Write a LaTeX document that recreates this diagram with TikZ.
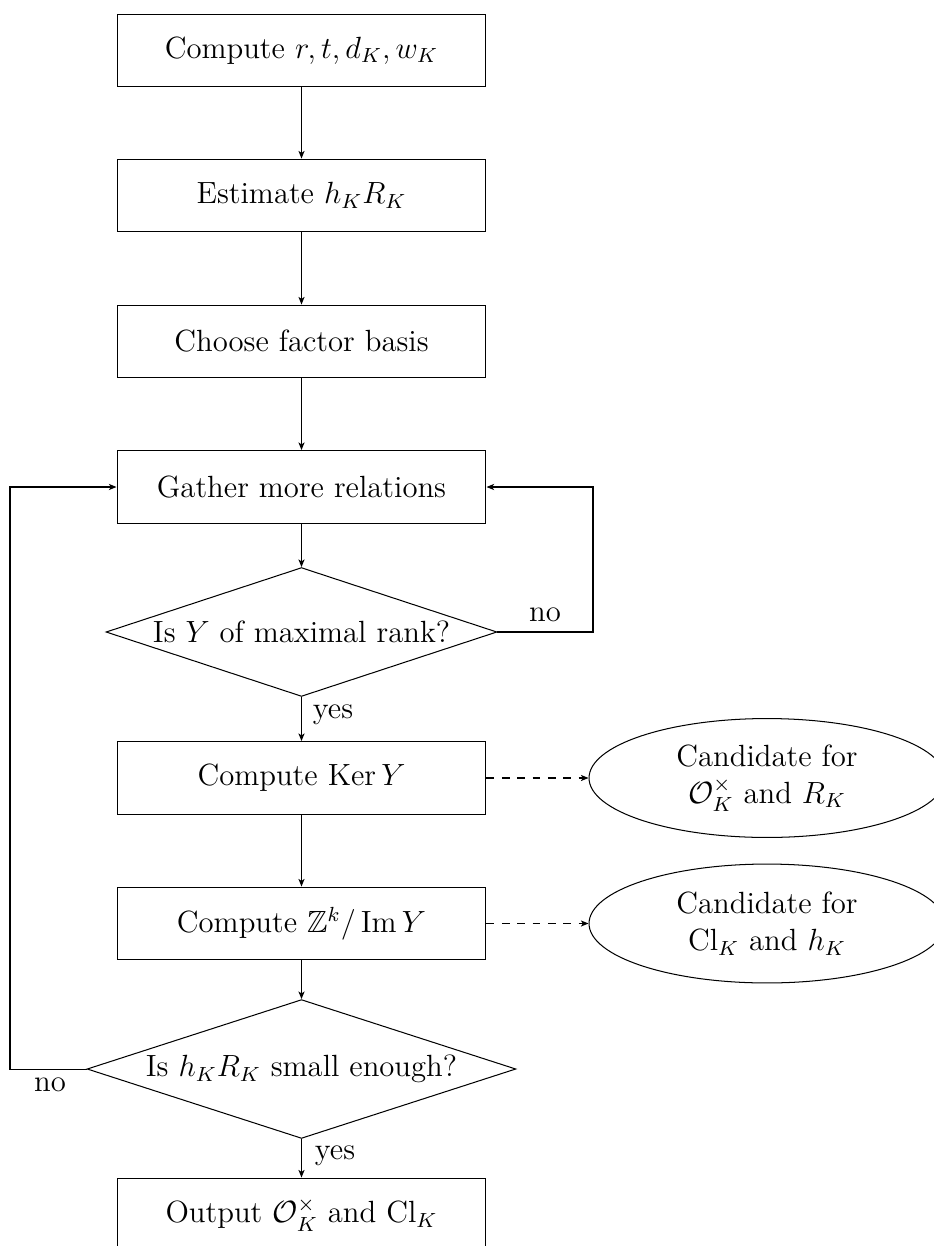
\documentclass[tikz,border=0pt,12pt]{standalone}
\usepackage{amsmath,amssymb}
\usetikzlibrary{shapes.geometric,arrows.meta}
\begin{document}
\begin{tikzpicture}[x=0.3911pt,y=-0.3911pt,
  box/.style={draw, rectangle, minimum width=144.3pt, minimum height=28.5pt, inner sep=0pt},
  dec/.style={draw, diamond, aspect=3.1, inner sep=0pt},
  cand/.style={draw, ellipse, minimum width=139.2pt, minimum height=46.5pt, inner sep=0pt, align=center},
  arr/.style={-{Stealth[length=3pt,width=2.4pt,inset=0.8pt]}},
  lbl/.style={inner sep=0pt}]
\clip (0,0) rectangle (934,1246);
\node[box] (b1) at (301.5,50.5) {Compute $r,t,d_K,w_K$};
\node[box] (b2) at (301.5,195.5) {Estimate $h_KR_K$};
\node[box] (b3) at (301.5,341.5) {Choose factor basis};
\node[box] (b4) at (301.5,487) {Gather more relations};
\node[dec, minimum width=152.9pt, minimum height=50.4pt] (d1) at (301.5,632) {Is $Y$ of maximal rank?};
\node[box] (b5) at (301.5,778) {Compute $\operatorname{Ker} Y$};
\node[box] (b6) at (301.5,923.5) {Compute $\mathbb{Z}^k/\operatorname{Im} Y$};
\node[dec, minimum width=167.7pt, minimum height=54.3pt] (d2) at (301.5,1069) {Is $h_KR_K$ small enough?};
\node[box] (b7) at (301.5,1214.5) {Output $\mathcal{O}_K^\times$ and $\mathrm{Cl}_K$};
\node[cand] (e1) at (767,778) {Candidate for\\ $\mathcal{O}_K^\times$ and $R_K$};
\node[cand] (e2) at (767,923.5) {Candidate for\\ $\mathrm{Cl}_K$ and $h_K$};
\coordinate (cr) at (593,632);
\coordinate (cl) at (10,1069);
\draw[arr] (b1) -- (b2);
\draw[arr] (b2) -- (b3);
\draw[arr] (b3) -- (b4);
\draw[arr] (b4) -- (d1);
\draw[arr] (d1) -- (b5);
\draw[arr] (b5) -- (b6);
\draw[arr] (b6) -- (d2);
\draw[arr] (d2) -- (b7);
\draw[arr] (d1.east) -- (cr) |- (b4.east);
\draw[arr] (d2.west) -- (cl) |- (b4.west);
\draw[arr, dashed] (b5.east) -- (e1.west);
\draw[arr, dashed] (b6.east) -- (e2.west);
\node[lbl] (no1) at (545,615) {no};
\node[lbl] (no2) at (50,1085) {no};
\node[lbl] (yes1) at (333,715) {yes};
\node[lbl] (yes2) at (335,1156) {yes};
\end{tikzpicture}
\end{document}
